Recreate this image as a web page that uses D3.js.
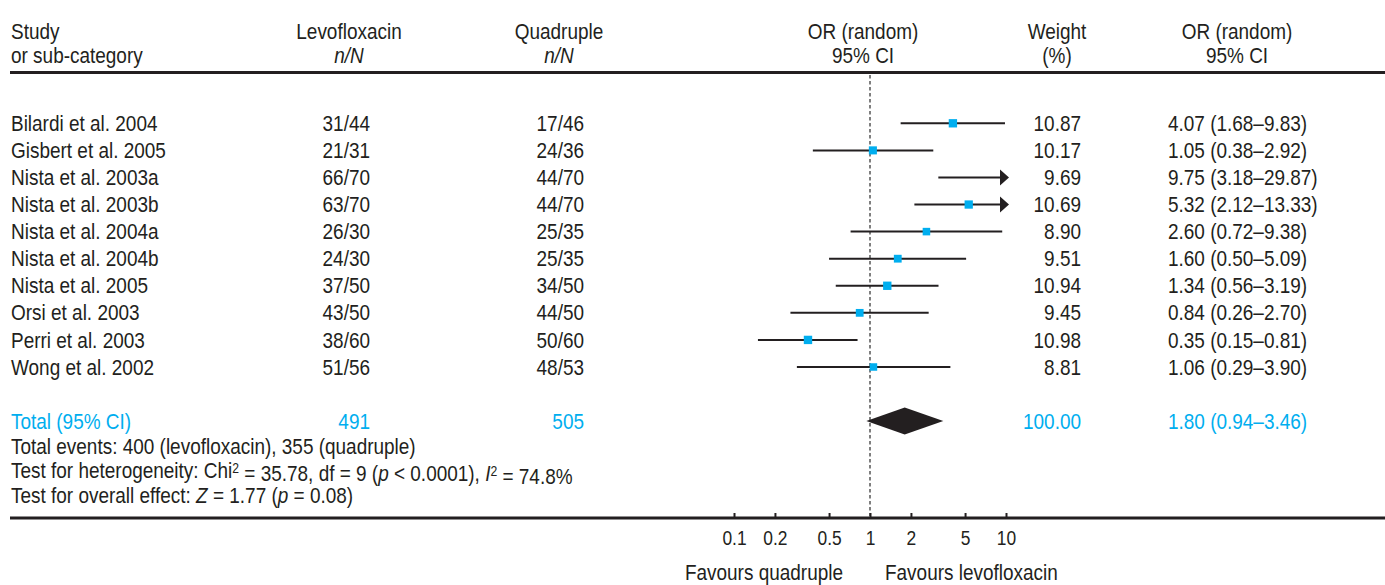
<!DOCTYPE html>
<html>
<head>
<meta charset="utf-8">
<script src="https://cdn.jsdelivr.net/npm/d3@7"></script>
<style>
	body { margin: 0; background: #fff; }
	svg text { font-family: "Liberation Sans Narrow", "Liberation Sans", Arial, sans-serif; font-size: 21.8px; fill: #231f20; }
</style>
</head>
<body>
<svg id="forest"></svg>
<script>
const studies = ["Bilardi et al. 2004", "Gisbert et al. 2005", "Nista et al. 2003a", "Nista et al. 2003b",
	"Nista et al. 2004a", "Nista et al. 2004b", "Nista et al. 2005", "Orsi et al. 2003", "Perri et al. 2003", "Wong et al. 2002"];
const levoN = ["31/44", "21/31", "66/70", "63/70", "26/30", "24/30", "37/50", "43/50", "38/60", "51/56"];
const quadN = ["17/46", "24/36", "44/70", "44/70", "25/35", "25/35", "34/50", "44/50", "50/60", "48/53"];
const weights = [10.87, 10.17, 9.69, 10.69, 8.90, 9.51, 10.94, 9.45, 10.98, 8.81];
const orVal = [4.07, 1.05, 9.75, 5.32, 2.60, 1.60, 1.34, 0.84, 0.35, 1.06];
const orLo = [1.68, 0.38, 3.18, 2.12, 0.72, 0.50, 0.56, 0.26, 0.15, 0.29];
const orHi = [9.83, 2.92, 29.87, 13.33, 9.38, 5.09, 3.19, 2.70, 0.81, 3.90];
const total = { label: "Total (95% CI)", levo: "491", quad: "505", weight: 100.00, or: 1.80, lo: 0.94, hi: 3.46 };
const ticks = [0.1, 0.2, 0.5, 1, 2, 5, 10];
const footLines = ["Total events: 400 (levofloxacin), 355 (quadruple)"];

const W = 1385, H = 585;
const ink = "#231f20", blue = "#00aeef";
const narrow = 0.87; // no condensed face installed, squeeze the regular one
const svg = d3.select("#forest").attr("width", W).attr("height", H);

const x = d3.scaleLog().domain([0.1, 10]).range([734, 1006]);
const rowY = d3.scaleLinear().domain([0, 9]).range([123.3, 367]);
const sq = d3.scaleSqrt().domain([0, 10]).range([0, 8]);
const arrowTip = x.range()[1] + 3;

// column anchors
const cStudy = 11, cLevo = 370, cQuad = 584, cWeight = 1081, cCI = 1168;

function put(parent, px, py, anchor) {
	return parent.append("text")
		.attr("transform", `translate(${px},${py}) scale(${narrow},1)`)
		.attr("dy", "0.35em")
		.attr("text-anchor", anchor || "start");
}
const ciText = (o, l, h) => `${o.toFixed(2)} (${l.toFixed(2)}\u2013${h.toFixed(2)})`;

// headers
const heads = [
	{ x: cStudy, a: "start", l1: "Study", l2: "or sub-category", it: false },
	{ x: 349, a: "middle", l1: "Levofloxacin", l2: "n/N", it: true },
	{ x: 559, a: "middle", l1: "Quadruple", l2: "n/N", it: true },
	{ x: 863, a: "middle", l1: "OR (random)", l2: "95% CI", it: false },
	{ x: 1057, a: "middle", l1: "Weight", l2: "(%)", it: false },
	{ x: 1237, a: "middle", l1: "OR (random)", l2: "95% CI", it: false }
];
heads.forEach(h => {
	put(svg, h.x, 31, h.a).text(h.l1);
	put(svg, h.x, 55, h.a).style("font-style", h.it ? "italic" : null).text(h.l2);
});

svg.append("line").attr("x1", 10).attr("x2", W).attr("y1", 72.5).attr("y2", 72.5)
	.attr("stroke", ink).attr("stroke-width", 3);

// null line
svg.append("line").attr("x1", x(1)).attr("x2", x(1)).attr("y1", 75).attr("y2", 516)
	.attr("stroke", "#555").attr("stroke-width", 1.5).attr("stroke-dasharray", "3.5,2.5");

// study rows
const rows = svg.selectAll("g.row").data(studies).enter().append("g").attr("class", "row")
	.attr("transform", (d, i) => `translate(0,${rowY(i)})`);

rows.each(function(d, i) {
	const g = d3.select(this);
	put(g, cStudy, 0).text(d);
	put(g, cLevo, 0, "end").text(levoN[i]);
	put(g, cQuad, 0, "end").text(quadN[i]);
	put(g, cWeight, 0, "end").text(weights[i].toFixed(2));
	put(g, cCI, 0).text(ciText(orVal[i], orLo[i], orHi[i]));

	const clipped = orHi[i] > 10;
	const x1 = x(orLo[i]);
	const x2 = clipped ? arrowTip - 8 : x(orHi[i]);
	g.append("line").attr("x1", x1).attr("x2", x2).attr("y1", 0).attr("y2", 0)
		.attr("stroke", ink).attr("stroke-width", 2);
	const cx = x(orVal[i]);
	const s = sq(weights[i]);
	if (!(clipped && cx + s / 2 > arrowTip - 9)) {
		g.append("rect").attr("x", cx - s / 2).attr("y", -s / 2).attr("width", s).attr("height", s).attr("fill", blue);
	}
	if (clipped) {
		g.append("path").attr("d", `M${arrowTip - 9},-8L${arrowTip},0L${arrowTip - 9},8Z`).attr("fill", ink);
	}
});

// total row
const ty = 421;
const tg = svg.append("g").attr("transform", `translate(0,${ty})`);
put(tg, cStudy, 0).style("fill", blue).text(total.label);
put(tg, cLevo, 0, "end").style("fill", blue).text(total.levo);
put(tg, cQuad, 0, "end").style("fill", blue).text(total.quad);
put(tg, cWeight, 0, "end").style("fill", blue).text(total.weight.toFixed(2));
put(tg, cCI, 0).style("fill", blue).text(ciText(total.or, total.lo, total.hi));
tg.append("path")
	.attr("d", `M${x(total.lo)},0L${x(total.or)},-13.5L${x(total.hi)},0L${x(total.or)},13.5Z`)
	.attr("fill", ink);

// footnotes
put(svg, cStudy, 446).text(footLines[0]);

const het = put(svg, cStudy, 470.5);
het.append("tspan").text("Test for heterogeneity: Chi");
het.append("tspan").attr("dy", "-0.4em").style("font-size", "14px").text("2");
het.append("tspan").attr("dy", "0.4em").text(" = 35.78, df = 9 (");
het.append("tspan").style("font-style", "italic").text("p");
het.append("tspan").text(" < 0.0001), ");
het.append("tspan").style("font-style", "italic").text("I");
het.append("tspan").attr("dy", "-0.4em").style("font-size", "14px").text("2");
het.append("tspan").attr("dy", "0.4em").text(" = 74.8%");

const ov = put(svg, cStudy, 495.5);
ov.append("tspan").text("Test for overall effect: ");
ov.append("tspan").style("font-style", "italic").text("Z");
ov.append("tspan").text(" = 1.77 (");
ov.append("tspan").style("font-style", "italic").text("p");
ov.append("tspan").text(" = 0.08)");

// bottom axis
svg.append("line").attr("x1", 10).attr("x2", W).attr("y1", 518).attr("y2", 518)
	.attr("stroke", ink).attr("stroke-width", 3);

const axis = d3.axisTop(x).tickValues(ticks).tickSize(5).tickFormat(d3.format("~g"));
const ag = svg.append("g").attr("transform", "translate(0,518)").call(axis);
ag.attr("font-size", null).attr("font-family", null);
ag.select(".domain").remove();
ag.selectAll(".tick line").attr("stroke", ink).attr("stroke-width", 2);
ag.selectAll(".tick text").attr("y", null).attr("dy", "0.35em").attr("fill", ink)
	.style("font-size", "20px")
	.attr("transform", `translate(0,20) scale(${narrow},1)`);

put(svg, x(1) - 27, 572, "end").text("Favours quadruple");
put(svg, x(1) + 15, 572).text("Favours levofloxacin");
</script>
</body>
</html>
